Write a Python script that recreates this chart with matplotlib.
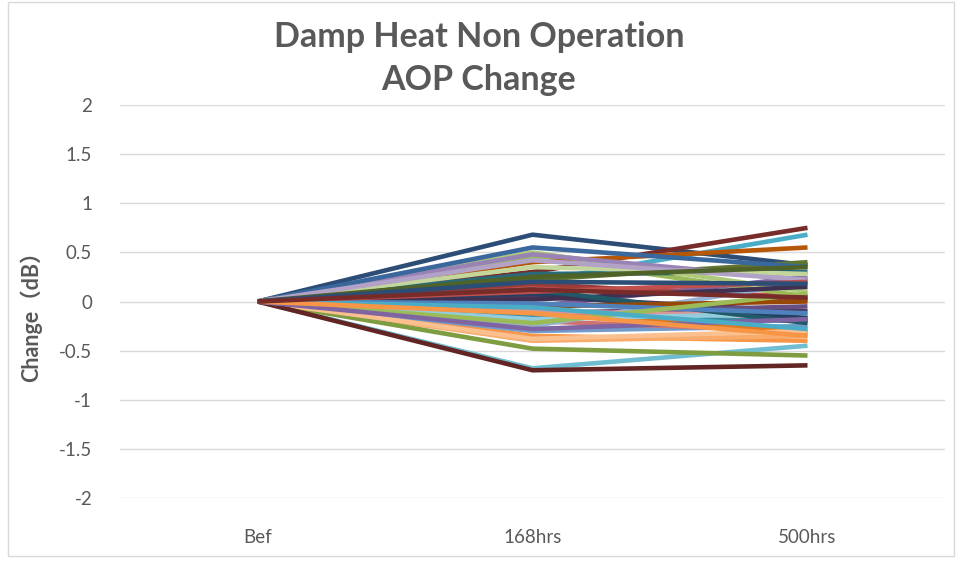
import matplotlib
matplotlib.use("Agg")
import matplotlib.pyplot as plt
from matplotlib.patches import Rectangle

categories = ["Bef", "168hrs", "500hrs"]

colors = [
    "#4F81BD", "#C0504D", "#9BBB59", "#8064A2", "#4BACC6", "#F79646",
    "#2C4D75", "#772C2A", "#5F7530", "#4D3B62", "#276A7C", "#B65708",
    "#729ACA", "#CD7371", "#AFC97A", "#9983B5", "#6FBDD1", "#F9AB6B",
    "#3A679C", "#9E3B38", "#7E9C40", "#664F83", "#358DA4", "#E07A21",
    "#95B3D7", "#D99694", "#C3D69B", "#B3A2C7", "#93CDDD", "#FAC090",
    "#254061", "#632523", "#4F6228", "#403152", "#215968", "#974806",
    "#4F81BD", "#C0504D", "#9BBB59", "#8064A2", "#4BACC6", "#F79646",
    "#2C4D75", "#772C2A",
]

bef_values = [0.0] * 44
h168_values = [
    0.10, 0.15, 0.45, -0.05, 0.20, -0.35,
    0.68, 0.30, 0.22, 0.05, 0.28, 0.40,
    -0.30, -0.20, 0.50, 0.48, -0.68, -0.40,
    0.55, 0.18, -0.48, -0.12, -0.15, -0.08,
    -0.25, -0.10, 0.35, 0.42, -0.18, -0.38,
    0.08, -0.70, 0.25, 0.02, 0.12, -0.05,
    -0.02, 0.10, -0.22, -0.28, -0.06, -0.12,
    0.20, 0.12,
]
h500_values = [
    -0.20, 0.05, 0.05, 0.25, 0.68, -0.40,
    0.37, 0.75, 0.40, -0.10, 0.30, 0.55,
    -0.25, -0.30, 0.10, 0.22, -0.45, -0.35,
    0.35, 0.02, -0.55, -0.05, -0.20, -0.32,
    0.20, -0.15, 0.28, 0.22, -0.12, -0.30,
    -0.17, -0.65, 0.35, 0.15, -0.22, 0.00,
    -0.12, 0.20, 0.08, -0.18, -0.28, -0.35,
    0.18, 0.04,
]

yticks = [2, 1.5, 1, 0.5, 0, -0.5, -1, -1.5, -2]
ytick_labels = ["2", "1.5", "1", "0.5", "0", "-0.5", "-1", "-1.5", "-2"]

fig = plt.figure(figsize=(9.58, 5.65), dpi=100)
ax = fig.add_axes([120/958, 1-498/565, (945-120)/958, (498-105)/565])

x = list(range(len(categories)))
for i, c in enumerate(colors):
    ax.plot(x, [bef_values[i], h168_values[i], h500_values[i]], color=c,
            lw=3.3, solid_capstyle="butt", zorder=3)

ax.set_xlim(-0.5, 2.5)
ax.set_ylim(-2, 2)
ax.set_yticks(yticks)
ax.set_yticklabels(ytick_labels)
ax.set_xticks(x)
ax.set_xticklabels(categories)
ax.yaxis.grid(True, color="#D9D9D9", lw=1, zorder=0)
ax.set_axisbelow(True)
for s in ax.spines.values():
    s.set_visible(False)
ax.tick_params(length=0, labelsize=13.5, labelcolor="#595959")
ax.tick_params(axis="y", pad=20)
ax.tick_params(axis="x", pad=22)
for lab in ax.get_xticklabels() + ax.get_yticklabels():
    lab.set_family(["Lato", "DejaVu Sans"])

fig.text(0.5, 1-37/565, "Damp Heat Non Operation", ha="center", va="center",
         fontsize=24.5, fontweight="bold", color="#595959", family=["Lato", "DejaVu Sans"])
fig.text(0.5, 1-80/565, "AOP Change", ha="center", va="center",
         fontsize=24.5, fontweight="bold", color="#595959", family=["Lato", "DejaVu Sans"])
fig.text(31/958, 1-311/565, "Change（dB）", rotation=90, ha="center", va="center",
         fontsize=15.5, fontweight="bold", color="#595959",
         family=["Lato", "Noto Sans CJK SC", "DejaVu Sans"])

fig.patches.append(Rectangle((8/958, 1-556/565), (954-8)/958, (556-2)/565,
                             transform=fig.transFigure, fill=False,
                             edgecolor="#D9D9D9", lw=1))

fig.savefig("out.png", dpi=100, facecolor="white")
